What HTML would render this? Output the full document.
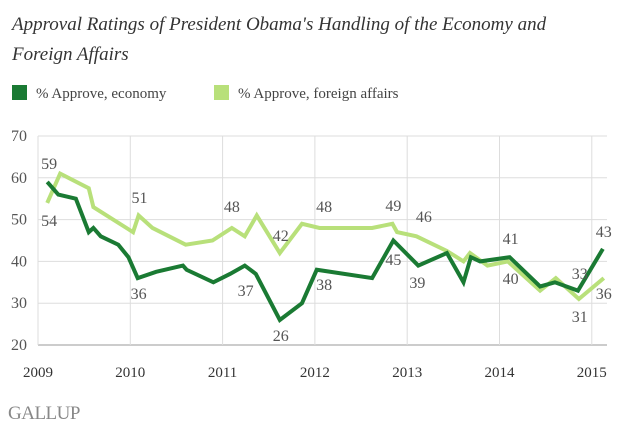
<!DOCTYPE html>
<html><head><meta charset="utf-8"><style>
html,body{margin:0;padding:0;background:#fff;width:620px;height:435px;overflow:hidden;}
body{font-family:"Liberation Serif",serif;}
</style></head><body>
<svg width="620" height="435" xmlns="http://www.w3.org/2000/svg">
<text x="12" y="30" font-family="Liberation Serif,serif" font-style="italic" font-size="19" fill="#333">Approval Ratings of President Obama's Handling of the Economy and</text>
<text x="12" y="60" font-family="Liberation Serif,serif" font-style="italic" font-size="19" fill="#333">Foreign Affairs</text>
<g>
<rect x="12" y="85" width="15" height="15" fill="#1a7a33"/>
<text x="36" y="98" font-size="15" fill="#444">% Approve, economy</text>
<rect x="214" y="85" width="15" height="15" fill="#b8e07a"/>
<text x="238" y="98" font-size="15" fill="#444">% Approve, foreign affairs</text>
</g>
<g id="grid"></g><g id="series"></g><g id="labels"></g>
<text x="8" y="419" font-size="19" fill="#888" letter-spacing="-0.5">GALLUP</text>
</svg>
<script>
const yTicks=[20,30,40,50,60,70];
const xYears=[2009,2010,2011,2012,2013,2014,2015];
const econX=[2009.10,2009.22,2009.41,2009.55,2009.60,2009.68,2009.87,2009.98,2010.08,2010.28,2010.57,2010.61,2010.90,2011.08,2011.24,2011.36,2011.62,2011.86,2012.02,2012.62,2012.85,2013.12,2013.43,2013.61,2013.69,2013.79,2014.11,2014.44,2014.60,2014.85,2015.12];
const econY=[59,56,55,47,48,46,44,41,36,37.5,39,38,35,37,39,37,26,30,38,36,45,39,42,35,41,40,41,34,35,33,43];
const forX=[2009.10,2009.24,2009.55,2009.60,2010.03,2010.09,2010.24,2010.60,2010.89,2011.10,2011.24,2011.37,2011.62,2011.86,2012.05,2012.62,2012.84,2012.89,2013.10,2013.43,2013.61,2013.68,2013.87,2014.09,2014.44,2014.61,2014.86,2015.13];
const forY=[54,61,57.5,53,47,51,48,44,45,48,46,51,42,49,48,48,49,47,46,42.5,40,42,39,40,33,36,31,36];
const labelText=["59","54","51","36","48","37","42","26","48","38","49","45","46","39","41","40","33","31","43","36"];
const labelX=[2009.12,2009.12,2010.10,2010.09,2011.10,2011.25,2011.63,2011.63,2012.10,2012.10,2012.85,2012.85,2013.18,2013.11,2014.12,2014.12,2014.87,2014.87,2015.13,2015.13];
const labelY=[62.1,48.5,54,31,51.8,31.7,44.9,21,51.8,33.2,52,39.1,49.4,33.6,44.2,34.6,35.8,25.5,45.8,31];
const NS="http://www.w3.org/2000/svg";
const xs=y=>38+(y-2009)*92.3;
const ys=v=>345-(v-20)*4.18;
const grid=document.getElementById('grid');
function mk(tag,at,parent){const e=document.createElementNS(NS,tag);for(const k in at)e.setAttribute(k,at[k]);parent.appendChild(e);return e;}
yTicks.forEach(t=>{
  const l=mk('line',{x1:38,x2:607,y1:ys(t),y2:ys(t),stroke:t===20?'#bbb':'#ddd','stroke-width':t===20?1.5:1},grid);
  
  
  const tx=mk('text',{x:11,y:ys(t)+5,'font-size':16,fill:'#555'},grid);tx.textContent=t;
  
  
});
xYears.forEach(y=>{
  const l=mk('line',{x1:xs(y),x2:xs(y),y1:ys(70),y2:ys(20),stroke:'#ddd','stroke-width':1},grid);
  
  
  const tx=mk('text',{x:xs(y),y:377,'font-size':15,fill:'#333','text-anchor':'middle'},grid);tx.textContent=y;
  
  
});
const ser=document.getElementById('series');
function line(X,Y,c,n){
  const p=mk('polyline',{points:X.map((x,i)=>xs(x)+','+ys(Y[i])).join(' '),fill:'none',stroke:c,'stroke-width':4,'stroke-linejoin':'miter'},ser);
  
  
}
line(forX,forY,'#b8e07a','line-foreign-affairs');
line(econX,econY,'#1a7a33','line-economy');
const lg=document.getElementById('labels');
labelText.forEach((t,i)=>{
  const tx=mk('text',{x:xs(labelX[i]),y:ys(labelY[i]),'font-size':16,fill:'#555','text-anchor':'middle'},lg);tx.textContent=t;
  
  
});
</script>
</body></html>
